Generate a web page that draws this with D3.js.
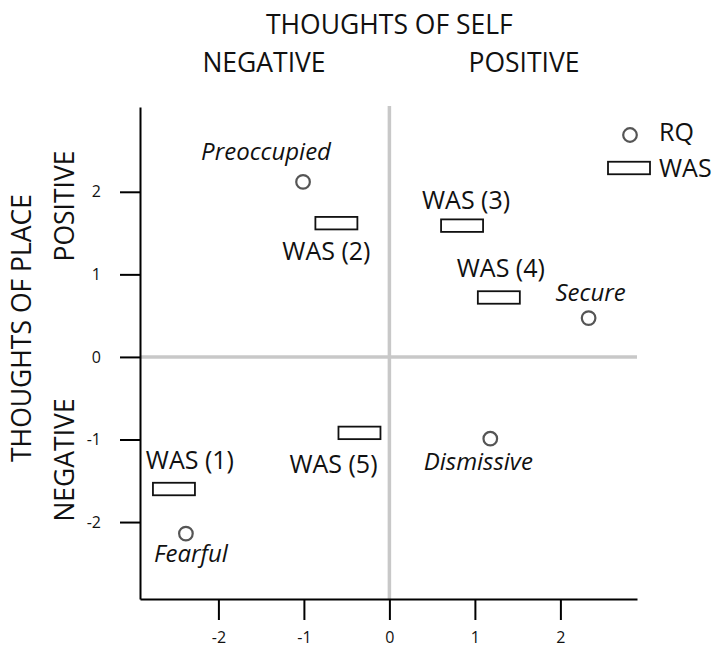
<!DOCTYPE html>
<html>
<head>
<meta charset="utf-8">
<script src="https://cdn.jsdelivr.net/npm/d3@7/dist/d3.min.js"></script>
<style>
  html, body { margin: 0; padding: 0; background: #fff; }
  svg { display: block; font-family: "Open Sans", "Noto Sans", sans-serif; }
</style>
</head>
<body>
<svg id="chart" width="715" height="648"></svg>
<script>
// ---- data ----
const rqNames = ["Preoccupied", "Secure", "Fearful", "Dismissive"];
const rqX = [-1.01, 2.33, -2.38, 1.18];
const rqY = [2.12, 0.47, -2.14, -0.99];

const wasNames = ["WAS (1)", "WAS (2)", "WAS (3)", "WAS (4)", "WAS (5)"];
const wasX = [-2.52, -0.62, 0.85, 1.28, -0.35];
const wasY = [-1.60, 1.62, 1.59, 0.72, -0.92];

const xTicks = [-2, -1, 0, 1, 2];
const yTicks = [-2, -1, 0, 1, 2];
const xDomain = [-2.917, 2.896];
const yDomain = [-2.932, 3.027];

const titleText = "THOUGHTS OF SELF";
const xSideLabels = ["NEGATIVE", "POSITIVE"];
const yTitleText = "THOUGHTS OF PLACE";
const ySideLabels = ["NEGATIVE", "POSITIVE"];
const legendLabels = ["RQ", "WAS"];

// ---- layout (label offsets from their mark, in px) ----
const rqLabelOffset = {
  "Preoccupied": [-37, -22],
  "Secure": [2, -17],
  "Fearful": [5, 28],
  "Dismissive": [-12, 31]
};
const wasLabelOffset = {
  "WAS (1)": [16, -20],
  "WAS (2)": [-10, 37],
  "WAS (3)": [4, -17],
  "WAS (4)": [2, -20],
  "WAS (5)": [-26, 40]
};

const svg = d3.select("#chart");
const x = d3.scaleLinear().domain(xDomain).range([140, 637]);
const y = d3.scaleLinear().domain(yDomain).range([599, 107]);

const gray = "#c8c8c8";
// zero lines
svg.append("line")
  .attr("x1", x(0)).attr("x2", x(0))
  .attr("y1", y(yDomain[1]) - 1).attr("y2", y(yDomain[0]))
  .attr("stroke", gray).attr("stroke-width", 3.5);
svg.append("line")
  .attr("x1", x(xDomain[0])).attr("x2", x(xDomain[1]))
  .attr("y1", y(0)).attr("y2", y(0))
  .attr("stroke", gray).attr("stroke-width", 3.5);

// axes
const xAxis = d3.axisBottom(x).tickValues(xTicks).tickSize(21).tickSizeOuter(0)
  .tickPadding(12).tickFormat(d3.format("d"));
const yAxis = d3.axisLeft(y).tickValues(yTicks).tickSize(20).tickSizeOuter(0)
  .tickPadding(19).tickFormat(d3.format("d"));

const gx = svg.append("g").attr("transform", `translate(0,${y(yDomain[0])})`).call(xAxis);
const gy = svg.append("g").attr("transform", `translate(${x(xDomain[0])},0)`).call(yAxis);
[gx, gy].forEach(g => {
  g.select(".domain").attr("stroke", "#000").attr("stroke-width", 2);
  g.selectAll(".tick line").attr("stroke", "#000").attr("stroke-width", 2);
  g.selectAll(".tick text").attr("fill", "#111")
    .style("font-family", "'Open Sans', sans-serif").style("font-size", "16px");
});
// hyphen-minus like the reference
gx.selectAll(".tick text").text(d => String(d));
gy.selectAll(".tick text").text(d => String(d));

// titles
const headSize = 26.5;
svg.append("text").attr("x", x(0)).attr("y", 34)
  .attr("text-anchor", "middle").style("font-size", headSize + "px").attr("fill", "#111")
  .text(titleText);
svg.append("text").attr("x", 264).attr("y", 72)
  .attr("text-anchor", "middle").style("font-size", headSize + "px").attr("fill", "#111")
  .text(xSideLabels[0]);
svg.append("text").attr("x", 524).attr("y", 72)
  .attr("text-anchor", "middle").style("font-size", headSize + "px").attr("fill", "#111")
  .text(xSideLabels[1]);

svg.append("text").attr("transform", "translate(31,328) rotate(-90)")
  .attr("text-anchor", "middle").style("font-size", headSize + "px").attr("fill", "#111")
  .text(yTitleText);
svg.append("text").attr("transform", "translate(74,460) rotate(-90)")
  .attr("text-anchor", "middle").style("font-size", headSize + "px").attr("fill", "#111")
  .text(ySideLabels[0]);
svg.append("text").attr("transform", "translate(74,206) rotate(-90)")
  .attr("text-anchor", "middle").style("font-size", headSize + "px").attr("fill", "#111")
  .text(ySideLabels[1]);

// WAS rectangles
const rw = 42, rh = 12.5;
const wasData = wasNames.map((n, i) => ({ name: n, x: wasX[i], y: wasY[i] }));
svg.append("g").selectAll("rect").data(wasData).join("rect")
  .attr("x", d => x(d.x) - rw / 2).attr("y", d => y(d.y) - rh / 2)
  .attr("width", rw).attr("height", rh)
  .attr("fill", "#fff").attr("stroke", "#111").attr("stroke-width", 1.8);
svg.append("g").selectAll("text").data(wasData).join("text")
  .attr("x", d => x(d.x) + wasLabelOffset[d.name][0])
  .attr("y", d => y(d.y) + wasLabelOffset[d.name][1])
  .attr("text-anchor", "middle").style("font-size", "25px").attr("fill", "#111")
  .text(d => d.name);

// RQ circles
const rqData = rqNames.map((n, i) => ({ name: n, x: rqX[i], y: rqY[i] }));
svg.append("g").selectAll("circle").data(rqData).join("circle")
  .attr("cx", d => x(d.x)).attr("cy", d => y(d.y)).attr("r", 6.8)
  .attr("fill", "#fff").attr("stroke", "#555").attr("stroke-width", 2.2);
svg.append("g").selectAll("text").data(rqData).join("text")
  .attr("x", d => x(d.x) + rqLabelOffset[d.name][0])
  .attr("y", d => y(d.y) + rqLabelOffset[d.name][1])
  .attr("text-anchor", "middle").style("font-size", "24px").style("font-style", "italic")
  .attr("fill", "#111")
  .text(d => d.name);

// legend
const lg = svg.append("g");
lg.append("circle").attr("cx", 630).attr("cy", 135).attr("r", 6.8)
  .attr("fill", "#fff").attr("stroke", "#555").attr("stroke-width", 2.2);
lg.append("text").attr("x", 659).attr("y", 141).style("font-size", "25px").attr("fill", "#111")
  .text(legendLabels[0]);
lg.append("rect").attr("x", 629 - rw / 2).attr("y", 168 - rh / 2).attr("width", rw).attr("height", rh)
  .attr("fill", "#fff").attr("stroke", "#111").attr("stroke-width", 1.8);
lg.append("text").attr("x", 659).attr("y", 177).style("font-size", "25px").attr("fill", "#111")
  .text(legendLabels[1]);
</script>
</body>
</html>
